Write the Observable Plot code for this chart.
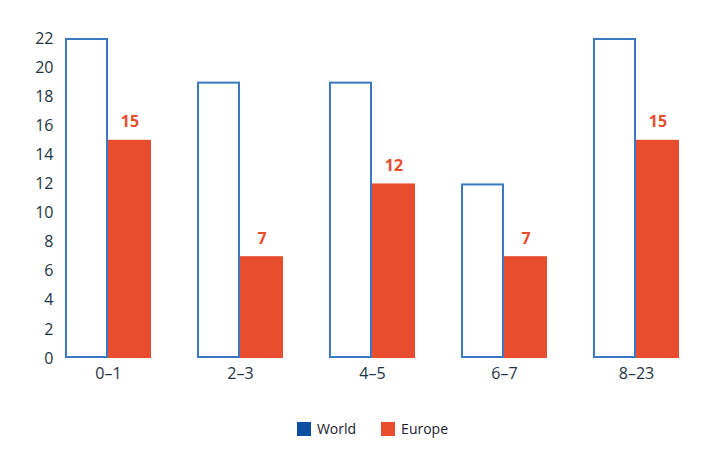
<!DOCTYPE html>
<html><head><meta charset="utf-8">
<script src="https://cdn.jsdelivr.net/npm/d3@7"></script>
<script src="https://cdn.jsdelivr.net/npm/@observablehq/plot@0.6"></script>
<style>
body{margin:0;background:#fff;font-family:"Open Sans",sans-serif;}
#legend{display:flex;justify-content:center;gap:25px;margin-top:24px;font-size:14px;color:#1a1a2e;padding-left:33px}
#legend span{display:inline-flex;align-items:center;gap:6px}
#legend i{display:inline-block;width:14px;height:14px}
</style>
</head><body><div id="chart"></div><div id="legend"></div><script>
const categories = ["0–1","2–3","4–5","6–7","8–23"];
const world = [22,19,19,12,22];
const europe = [15,7,12,7,15];
const yTicks = [0,2,4,6,8,10,12,14,16,18,20,22];
const seriesNames = ["World","Europe"];
const seriesColors = ["#0b4ea2","#e84e2e"];

const worldData = categories.map((c,i)=>({cat:c, series:"World", value:world[i]}));
const europeData = categories.map((c,i)=>({cat:c, series:"Europe", value:europe[i]}));

const chart = Plot.plot({
  width:712, height:395,
  marginLeft:42, marginRight:10, marginTop:38, marginBottom:37,
  style:{fontFamily:"Open Sans, sans-serif", fontSize:"16px", color:"#1c3344"},
  fx:{domain:categories, paddingInner:0.35, paddingOuter:0.175, label:null, axis:"bottom", tickSize:0, tickPadding:9},
  x:{domain:seriesNames, padding:0, axis:null},
  y:{domain:[0,22], ticks:yTicks, label:null, tickSize:0, tickPadding:12},
  marks:[
    Plot.barY(worldData,{fx:"cat", x:"series", y:"value", fill:"white", stroke:"#3a78bf", strokeWidth:2, inset:1}),
    Plot.barY(europeData,{fx:"cat", x:"series", y:"value", fill:"#e84e2e"}),
    Plot.text(europeData,{fx:"cat", x:"series", y:"value", text:d=>String(d.value), dy:-18, fill:"#e84e2e", fontWeight:"bold", fontSize:16})
  ]
});
document.getElementById("chart").appendChild(chart);
const lg = document.getElementById("legend");
seriesNames.forEach((s,i)=>{
  const el = document.createElement("span");
  el.innerHTML = `<i style="background:${seriesColors[i]}"></i>${s}`;
  lg.appendChild(el);
});
</script></body></html>
